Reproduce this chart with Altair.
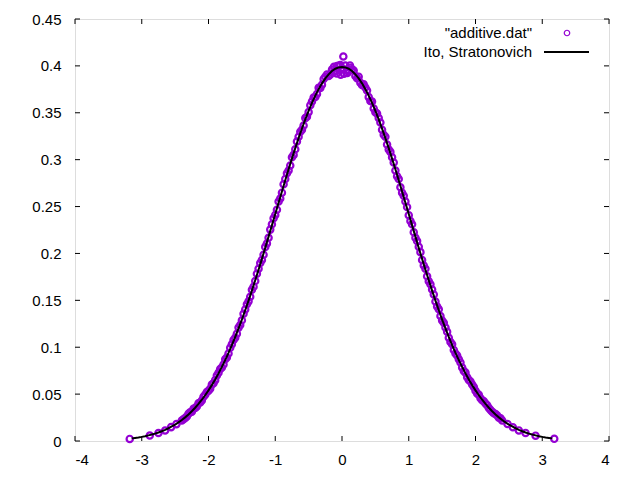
import altair as alt
import pandas as pd

# Theoretical curve ("Ito, Stratonovich")
curve_x = [-3.15, -3.10, -3.05, -3.00, -2.95, -2.90, -2.85, -2.80, -2.75, -2.70, -2.65, -2.60,
           -2.55, -2.50, -2.45, -2.40, -2.35, -2.30, -2.25, -2.20, -2.15, -2.10, -2.05, -2.00,
           -1.95, -1.90, -1.85, -1.80, -1.75, -1.70, -1.65, -1.60, -1.55, -1.50, -1.45, -1.40,
           -1.35, -1.30, -1.25, -1.20, -1.15, -1.10, -1.05, -1.00, -0.95, -0.90, -0.85, -0.80,
           -0.75, -0.70, -0.65, -0.60, -0.55, -0.50, -0.45, -0.40, -0.35, -0.30, -0.25, -0.20,
           -0.15, -0.10, -0.05, 0.00, 0.05, 0.10, 0.15, 0.20, 0.25, 0.30, 0.35, 0.40, 0.45,
           0.50, 0.55, 0.60, 0.65, 0.70, 0.75, 0.80, 0.85, 0.90, 0.95, 1.00, 1.05, 1.10, 1.15,
           1.20, 1.25, 1.30, 1.35, 1.40, 1.45, 1.50, 1.55, 1.60, 1.65, 1.70, 1.75, 1.80, 1.85,
           1.90, 1.95, 2.00, 2.05, 2.10, 2.15, 2.20, 2.25, 2.30, 2.35, 2.40, 2.45, 2.50, 2.55,
           2.60, 2.65, 2.70, 2.75, 2.80, 2.85, 2.90, 2.95, 3.00, 3.05, 3.10, 3.15]
curve_y = [0.0028, 0.0033, 0.0038, 0.0044, 0.0051, 0.0060, 0.0069, 0.0079, 0.0091, 0.0104, 0.0119, 0.0136,
           0.0155, 0.0175, 0.0198, 0.0224, 0.0252, 0.0283, 0.0317, 0.0355, 0.0396, 0.0440, 0.0488, 0.0540,
           0.0596, 0.0656, 0.0721, 0.0790, 0.0863, 0.0940, 0.1023, 0.1109, 0.1200, 0.1295, 0.1394, 0.1497,
           0.1604, 0.1714, 0.1826, 0.1942, 0.2059, 0.2179, 0.2299, 0.2420, 0.2541, 0.2661, 0.2780, 0.2897,
           0.3011, 0.3123, 0.3230, 0.3332, 0.3429, 0.3521, 0.3605, 0.3683, 0.3752, 0.3814, 0.3867, 0.3910,
           0.3945, 0.3970, 0.3984, 0.3989, 0.3984, 0.3970, 0.3945, 0.3910, 0.3867, 0.3814, 0.3752, 0.3683, 0.3605,
           0.3521, 0.3429, 0.3332, 0.3230, 0.3123, 0.3011, 0.2897, 0.2780, 0.2661, 0.2541, 0.2420, 0.2299, 0.2179, 0.2059,
           0.1942, 0.1826, 0.1714, 0.1604, 0.1497, 0.1394, 0.1295, 0.1200, 0.1109, 0.1023, 0.0940, 0.0863, 0.0790, 0.0721,
           0.0656, 0.0596, 0.0540, 0.0488, 0.0440, 0.0396, 0.0355, 0.0317, 0.0283, 0.0252, 0.0224, 0.0198, 0.0175, 0.0155,
           0.0136, 0.0119, 0.0104, 0.0091, 0.0079, 0.0069, 0.0060, 0.0051, 0.0044, 0.0038, 0.0033, 0.0028]

# Simulated histogram ("additive.dat"), first sweep of bins
scatter_x = [-3.18, -2.88, -2.75, -2.65, -2.56, -2.48, -2.40, -2.35, -2.30, -2.25, -2.20, -2.15,
             -2.10, -2.05, -2.00, -1.95, -1.90, -1.85, -1.80, -1.75, -1.70, -1.65, -1.60, -1.55,
             -1.50, -1.45, -1.40, -1.35, -1.30, -1.25, -1.20, -1.15, -1.10, -1.05, -1.00, -0.95,
             -0.90, -0.85, -0.80, -0.75, -0.70, -0.65, -0.60, -0.55, -0.50, -0.45, -0.40, -0.35,
             -0.30, -0.25, -0.20, -0.15, -0.10, -0.05, 0.00, 0.05, 0.10, 0.15, 0.20, 0.25,
             0.30, 0.35, 0.40, 0.45, 0.50, 0.55, 0.60, 0.65, 0.70, 0.75, 0.80, 0.85,
             0.90, 0.95, 1.00, 1.05, 1.10, 1.15, 1.20, 1.25, 1.30, 1.35, 1.40, 1.45,
             1.50, 1.55, 1.60, 1.65, 1.70, 1.75, 1.80, 1.85, 1.90, 1.95, 2.00, 2.05,
             2.10, 2.15, 2.20, 2.25, 2.30, 2.35, 2.40, 2.48, 2.56, 2.65, 2.75, 2.90, 3.18,
             0.02, -0.02, 0.03, 0.08, -0.08, 0.12, -0.12]
scatter_y = [0.0022, 0.0058, 0.0085, 0.0112, 0.0148, 0.0180, 0.0219, 0.0246, 0.0290, 0.0311, 0.0352, 0.0402,
             0.0433, 0.0494, 0.0536, 0.0603, 0.0649, 0.0728, 0.0784, 0.0871, 0.0933, 0.1031, 0.1101, 0.1209,
             0.1287, 0.1403, 0.1489, 0.1614, 0.1705, 0.1836, 0.1931, 0.2070, 0.2168, 0.2311, 0.2409, 0.2553,
             0.2648, 0.2793, 0.2885, 0.3025, 0.3110, 0.3244, 0.3319, 0.3443, 0.3507, 0.3620, 0.3668, 0.3768,
             0.3798, 0.3884, 0.3893, 0.3962, 0.3951, 0.4002, 0.3968, 0.4003, 0.3949, 0.3963, 0.3892, 0.3885,
             0.3797, 0.3769, 0.3667, 0.3621, 0.3506, 0.3444, 0.3318, 0.3245, 0.3109, 0.3026, 0.2884, 0.2794,
             0.2647, 0.2554, 0.2408, 0.2312, 0.2167, 0.2071, 0.1930, 0.1837, 0.1704, 0.1615, 0.1488, 0.1404,
             0.1286, 0.1210, 0.1100, 0.1032, 0.0932, 0.0872, 0.0783, 0.0729, 0.0650, 0.0602, 0.0535, 0.0493,
             0.0434, 0.0401, 0.0351, 0.0312, 0.0289, 0.0247, 0.0218, 0.0181, 0.0147, 0.0113, 0.0086, 0.0057, 0.0023,
             0.4100, 0.3905, 0.3915, 0.3925, 0.3920, 0.4005, 0.3990]

# Second sweep of bins (between the first ones)
scatter_x2 = [-2.375, -2.325, -2.275, -2.225, -2.175, -2.125, -2.075, -2.025, -1.975, -1.925, -1.875, -1.825,
              -1.775, -1.725, -1.675, -1.625, -1.575, -1.525, -1.475, -1.425, -1.375, -1.325, -1.275, -1.225,
              -1.175, -1.125, -1.075, -1.025, -0.975, -0.925, -0.875, -0.825, -0.775, -0.725, -0.675, -0.625,
              -0.575, -0.525, -0.475, -0.425, -0.375, -0.325, -0.275, -0.225, -0.175, -0.125, -0.075, -0.025,
              0.025, 0.075, 0.125, 0.175, 0.225, 0.275, 0.325, 0.375, 0.425, 0.475, 0.525, 0.575,
              0.625, 0.675, 0.725, 0.775, 0.825, 0.875, 0.925, 0.975, 1.025, 1.075, 1.125, 1.175,
              1.225, 1.275, 1.325, 1.375, 1.425, 1.475, 1.525, 1.575, 1.625, 1.675, 1.725, 1.775,
              1.825, 1.875, 1.925, 1.975, 2.025, 2.075, 2.125, 2.175, 2.225, 2.275, 2.325, 2.375]
scatter_y2 = [0.0233, 0.0262, 0.0306, 0.0343, 0.0369, 0.0410, 0.0472, 0.0523, 0.0558, 0.0617, 0.0699, 0.0767,
              0.0816, 0.0891, 0.0994, 0.1078, 0.1143, 0.1236, 0.1358, 0.1459, 0.1538, 0.1646, 0.1784, 0.1898,
              0.1987, 0.2105, 0.2254, 0.2375, 0.2466, 0.2586, 0.2737, 0.2855, 0.2938, 0.3051, 0.3194, 0.3298,
              0.3364, 0.3458, 0.3581, 0.3662, 0.3700, 0.3764, 0.3861, 0.3909, 0.3907, 0.3936, 0.4000, 0.4010,
              0.3963, 0.3955, 0.3981, 0.3950, 0.3868, 0.3821, 0.3803, 0.3737, 0.3626, 0.3546, 0.3492, 0.3397,
              0.3265, 0.3161, 0.3083, 0.2969, 0.2824, 0.2706, 0.2615, 0.2495, 0.2346, 0.2225, 0.2133, 0.2014,
              0.1871, 0.1757, 0.1672, 0.1563, 0.1434, 0.1333, 0.1260, 0.1166, 0.1055, 0.0971, 0.0912, 0.0837,
              0.0747, 0.0680, 0.0635, 0.0576, 0.0507, 0.0457, 0.0425, 0.0382, 0.0331, 0.0295, 0.0273, 0.0242]

x_ticks = [-4, -3, -2, -1, 0, 1, 2, 3, 4]
y_ticks = [0, 0.05, 0.1, 0.15, 0.2, 0.25, 0.3, 0.35, 0.4, 0.45]
legend_labels = ['"additive.dat"', "Ito, Stratonovich"]

W, H = 534, 422
FONT = "Liberation Sans"
FS = 15
PURPLE = "#9400D3"
MSIZE = 40
MSTROKE = 2.2

xs = alt.Scale(domain=[-4, 4], nice=False, zero=False)
ys = alt.Scale(domain=[0, 0.45], nice=False, zero=False)

xaxis = alt.Axis(values=x_ticks, ticks=False, domain=False, grid=False, title=None,
                 labelFont=FONT, labelFontSize=FS, labelColor="black", labelPadding=11,
                 labelExpr="datum.value < 0 ? '-' + (-datum.value) : '' + datum.value")
yaxis = alt.Axis(values=y_ticks, ticks=False, domain=False, grid=False, title=None,
                 labelFont=FONT, labelFontSize=FS, labelColor="black", labelPadding=14,
                 format="~g")

curve_df = pd.DataFrame({"x": curve_x, "y": curve_y})
scatter_df = pd.DataFrame({"x": scatter_x + scatter_x2, "y": scatter_y + scatter_y2})
xt_df = pd.DataFrame({"x": x_ticks})
yt_df = pd.DataFrame({"y": y_ticks})
leg_df = pd.DataFrame({"label": legend_labels})

X = alt.X("x:Q", scale=xs, axis=xaxis)
Y = alt.Y("y:Q", scale=ys, axis=yaxis)

points = alt.Chart(scatter_df).mark_point(shape="circle", filled=False, color=PURPLE,
                                           size=MSIZE, strokeWidth=MSTROKE, opacity=1).encode(x=X, y=Y)
line = alt.Chart(curve_df).mark_line(color="black", strokeWidth=2).encode(x=X, y=Y)

tick_b = alt.Chart(xt_df).mark_rule(color="black").encode(x=X, y=alt.value(H), y2=alt.value(H - 5))
tick_t = alt.Chart(xt_df).mark_rule(color="black").encode(x=X, y=alt.value(0), y2=alt.value(5))
tick_l = alt.Chart(yt_df).mark_rule(color="black").encode(y=Y, x=alt.value(0), x2=alt.value(5))
tick_r = alt.Chart(yt_df).mark_rule(color="black").encode(y=Y, x=alt.value(W - 5), x2=alt.value(W))

leg1 = alt.Chart(leg_df.iloc[[0]]).mark_text(align="right", baseline="middle", font=FONT,
                                              fontSize=FS, color="black").encode(
    x=alt.value(457), y=alt.value(14), text="label:N")
leg2 = alt.Chart(leg_df.iloc[[1]]).mark_text(align="right", baseline="middle", font=FONT,
                                              fontSize=FS, color="black").encode(
    x=alt.value(457), y=alt.value(33), text="label:N")
leg_pt = alt.Chart(leg_df.iloc[[0]]).mark_point(shape="circle", filled=False, color=PURPLE,
                                                 size=30, strokeWidth=1.2, opacity=1).encode(
    x=alt.value(492), y=alt.value(14))
leg_ln = alt.Chart(leg_df.iloc[[1]]).mark_rule(color="black", strokeWidth=2).encode(
    x=alt.value(469), x2=alt.value(514), y=alt.value(33))

chart = alt.layer(tick_b, tick_t, tick_l, tick_r, points, line, leg1, leg2, leg_pt, leg_ln).properties(
    width=W, height=H,
    autosize=alt.AutoSizeParams(type="none"),
    padding={"left": 67, "top": 11, "right": 23, "bottom": 31},
).configure_view(stroke="black", strokeWidth=1).configure(background="white")

chart.save("out.html", embed_options={"renderer": "svg", "actions": False})
